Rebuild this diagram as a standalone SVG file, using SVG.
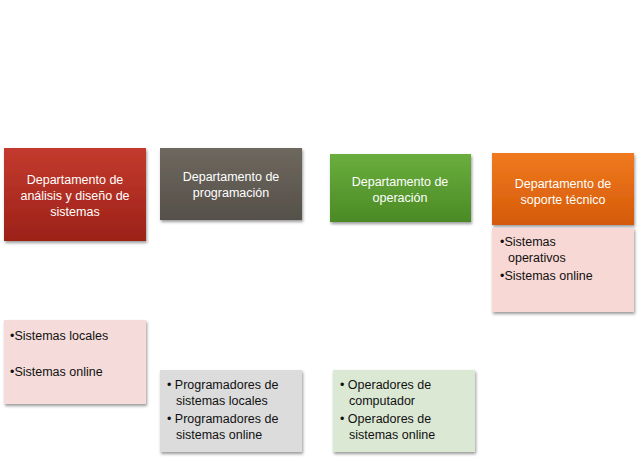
<svg xmlns="http://www.w3.org/2000/svg" width="640" height="462" viewBox="0 0 640 462">
<defs>
<linearGradient id="gr" x1="0" y1="0" x2="0" y2="1"><stop offset="0" stop-color="#c43a2e"/><stop offset="1" stop-color="#9c2118"/></linearGradient>
<linearGradient id="gg" x1="0" y1="0" x2="0" y2="1"><stop offset="0" stop-color="#6e685e"/><stop offset="1" stop-color="#55504a"/></linearGradient>
<linearGradient id="ggr" x1="0" y1="0" x2="0" y2="1"><stop offset="0" stop-color="#6aae3e"/><stop offset="1" stop-color="#4b8a25"/></linearGradient>
<linearGradient id="go" x1="0" y1="0" x2="0" y2="1"><stop offset="0" stop-color="#f07a20"/><stop offset="1" stop-color="#d55a08"/></linearGradient>
<filter id="sh" x="-10%" y="-10%" width="125%" height="130%"><feDropShadow dx="1" dy="2" stdDeviation="1.5" flood-opacity="0.4"/></filter>
</defs>
<style>
.h{font-family:"Liberation Sans",Arial,sans-serif;font-size:12.5px;fill:#fff;text-anchor:middle}
.b{font-family:"Liberation Sans",Arial,sans-serif;font-size:12.5px;fill:#111}
rect{filter:url(#sh)}
</style>
<rect width="640" height="462" fill="#fff" style="filter:none"/>
<g id="n1"><rect x="4" y="148" width="142" height="93" fill="url(#gr)"/>
<text class="h" x="75" y="184">Departamento de</text><text class="h" x="75" y="200">análisis y diseño de</text><text class="h" x="75" y="216">sistemas</text></g>
<g id="n2"><rect x="160" y="148" width="142" height="72" fill="url(#gg)"/>
<text class="h" x="231" y="181">Departamento de</text><text class="h" x="231" y="197">programación</text></g>
<g id="n3"><rect x="330" y="154" width="141" height="68" fill="url(#ggr)"/>
<text class="h" x="400" y="186">Departamento de</text><text class="h" x="400" y="202">operación</text></g>
<g id="n4"><rect x="492" y="153" width="142" height="72" fill="url(#go)"/>
<text class="h" x="563" y="188">Departamento de</text><text class="h" x="563" y="204">soporte técnico</text></g>
<g id="n4b"><rect x="492" y="228" width="142" height="84" fill="#f8d8d5"/>
<text class="b" x="500" y="246">•Sistemas</text><text class="b" x="508" y="262">operativos</text><text class="b" x="500" y="280">•Sistemas online</text></g>
<g id="n1b"><rect x="4" y="320" width="142" height="84" fill="#f5dcda"/>
<text class="b" x="10" y="340">•Sistemas locales</text><text class="b" x="10" y="376">•Sistemas online</text></g>
<g id="n2b"><rect x="160" y="370" width="142" height="82" fill="#dcdcdc"/>
<text class="b" x="167" y="389">• Programadores de</text><text class="b" x="176" y="405">sistemas locales</text><text class="b" x="167" y="423">• Programadores de</text><text class="b" x="176" y="439">sistemas online</text></g>
<g id="n3b"><rect x="333" y="370" width="142" height="82" fill="#dbe8d4"/>
<text class="b" x="340" y="389">• Operadores de</text><text class="b" x="349" y="405">computador</text><text class="b" x="340" y="423">• Operadores de</text><text class="b" x="349" y="439">sistemas online</text></g>
<g id="connectors"/>
</svg>
